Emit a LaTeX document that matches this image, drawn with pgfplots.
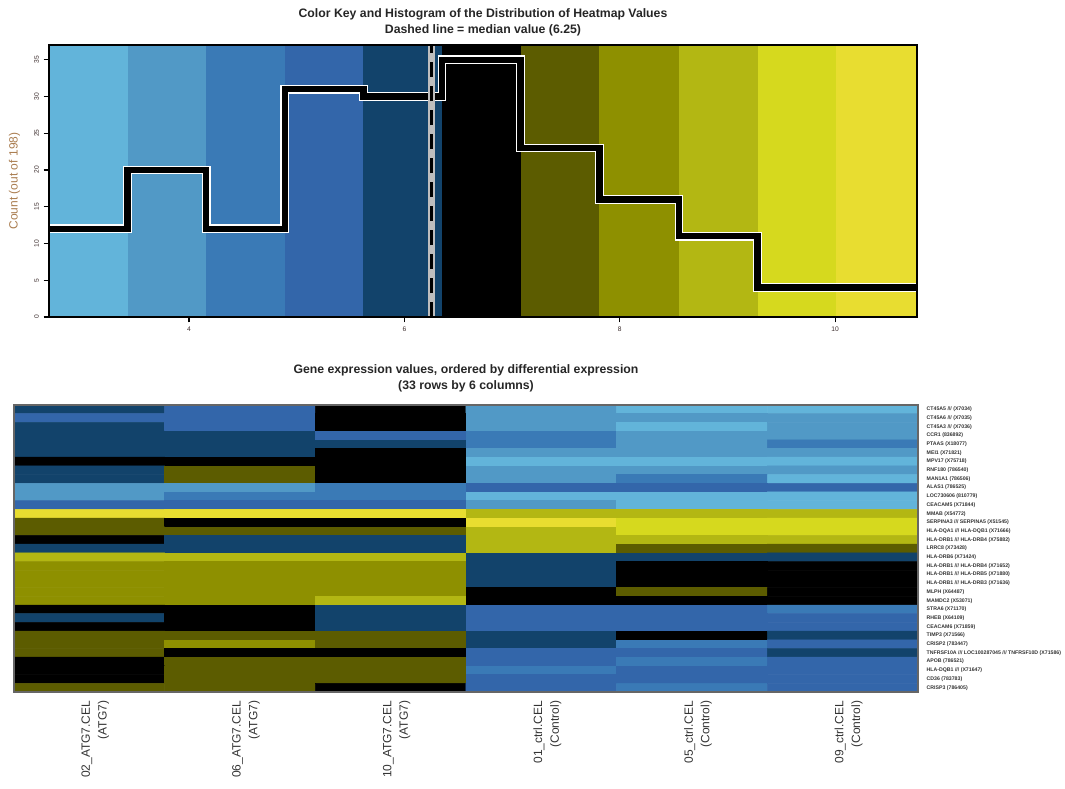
\documentclass[border=0pt]{standalone}
\usepackage{fontspec}
\setmainfont{Liberation Sans}
\usepackage{pgfplots}
\pgfplotsset{compat=1.18}
\definecolor{k0}{RGB}{98,180,218}
\definecolor{k1}{RGB}{81,153,198}
\definecolor{k2}{RGB}{58,122,182}
\definecolor{k3}{RGB}{51,102,170}
\definecolor{k4}{RGB}{18,67,107}
\definecolor{k5}{RGB}{0,0,0}
\definecolor{k6}{RGB}{92,92,0}
\definecolor{k7}{RGB}{142,144,0}
\definecolor{k8}{RGB}{179,183,19}
\definecolor{k9}{RGB}{214,217,30}
\definecolor{k10}{RGB}{232,221,48}
\definecolor{labbrown}{RGB}{170,125,80}
\definecolor{ticktxt}{RGB}{60,45,45}
\definecolor{medgrey}{RGB}{190,190,190}
\begin{document}
\begin{tikzpicture}
\useasboundingbox (0,0) rectangle (798.75pt,-591.75pt);
% ---------------- colour key + histogram ----------------
\begin{axis}[
  at={(36.75pt,-237.75pt)}, anchor=south west, scale only axis,
  width=651pt, height=204pt,
  xmin=2.70, xmax=10.76, ymin=0, ymax=37,
  axis on top,
  xtick={4,6,8,10}, ytick={0,5,...,35},
  tick align=outside, xtick pos=bottom, ytick pos=left,
  major tick length=4pt,
  tick style={black, line width=0.8pt},
  axis line style={line width=1pt},
  /pgf/number format/assume math mode=true,
  ticklabel style={font=\fontsize{5}{6}\selectfont, text=ticktxt},
  yticklabel style={rotate=90, anchor=south},
  ylabel={Count (out of 198)},
  ylabel style={at={(axis description cs:-0.028,0.5)}, anchor=south, font=\fontsize{9}{11}\selectfont, text=labbrown},
  title={Color Key and Histogram of the Distribution of Heatmap Values\\Dashed line = median value (6.25)},
  title style={align=center, font=\bfseries\fontsize{9.2}{12}\selectfont, text=black!85},
  every axis title shift=3.5pt,
]
\addplot[fill=k0, draw=none] coordinates {(2.70,0) (2.70,37) (3.43,37) (3.43,0)} --cycle;
\addplot[fill=k1, draw=none] coordinates {(3.43,0) (3.43,37) (4.16,37) (4.16,0)} --cycle;
\addplot[fill=k2, draw=none] coordinates {(4.16,0) (4.16,37) (4.89,37) (4.89,0)} --cycle;
\addplot[fill=k3, draw=none] coordinates {(4.89,0) (4.89,37) (5.62,37) (5.62,0)} --cycle;
\addplot[fill=k4, draw=none] coordinates {(5.62,0) (5.62,37) (6.35,37) (6.35,0)} --cycle;
\addplot[fill=k5, draw=none] coordinates {(6.35,0) (6.35,37) (7.08,37) (7.08,0)} --cycle;
\addplot[fill=k6, draw=none] coordinates {(7.08,0) (7.08,37) (7.81,37) (7.81,0)} --cycle;
\addplot[fill=k7, draw=none] coordinates {(7.81,0) (7.81,37) (8.55,37) (8.55,0)} --cycle;
\addplot[fill=k8, draw=none] coordinates {(8.55,0) (8.55,37) (9.28,37) (9.28,0)} --cycle;
\addplot[fill=k9, draw=none] coordinates {(9.28,0) (9.28,37) (10.01,37) (10.01,0)} --cycle;
\addplot[fill=k10, draw=none] coordinates {(10.01,0) (10.01,37) (10.76,37) (10.76,0)} --cycle;
% histogram step line
\addplot[const plot, white, line width=6.6pt] coordinates {(2.70,12) (3.43,20) (4.16,12) (4.89,31) (5.62,30) (6.35,35) (7.08,23) (7.81,16) (8.55,11) (9.28,4) (10.01,4) (10.76,4)};
\addplot[const plot, black, line width=4.8pt] coordinates {(2.70,12) (3.43,20) (4.16,12) (4.89,31) (5.62,30) (6.35,35) (7.08,23) (7.81,16) (8.55,11) (9.28,4) (10.01,4) (10.76,4)};
% median line
\addplot[medgrey, line width=5.5pt] coordinates {(6.25,0) (6.25,37)};
\addplot[black, line width=2.2pt, dash pattern=on 11pt off 7pt] coordinates {(6.25,0) (6.25,37)};
\end{axis}
% ---------------- heatmap ----------------
\begin{axis}[
  at={(10.5pt,-519pt)}, anchor=south west, scale only axis,
  width=678pt, height=215.25pt,
  xmin=-0.5, xmax=5.5, ymin=-0.5, ymax=32.5, y dir=reverse,
  enlargelimits=false, axis on top,
  colormap={hm}{rgb255=(98,180,218) rgb255=(81,153,198) rgb255=(58,122,182) rgb255=(51,102,170) rgb255=(18,67,107) rgb255=(0,0,0) rgb255=(92,92,0) rgb255=(142,144,0) rgb255=(179,183,19) rgb255=(214,217,30) rgb255=(232,221,48)},
  colormap access=direct,
  xtick={0,...,5},
  xticklabels={{02\_ATG7.CEL\\(ATG7)},{06\_ATG7.CEL\\(ATG7)},{10\_ATG7.CEL\\(ATG7)},{01\_ctrl.CEL\\(Control)},{05\_ctrl.CEL\\(Control)},{09\_ctrl.CEL\\(Control)}},
  xticklabel style={rotate=90, anchor=east, align=right, font=\fontsize{9}{12.5}\selectfont, text=black!80, xshift=-3pt, yshift=-4.5pt},
  ytick={0,...,32},
  yticklabels={{CT45A5 /// (X7034)},{CT45A6 /// (X7035)},{CT45A3 /// (X7036)},{CCR1 (836892)},{PTAAS (X18077)},{MEI1 (X71821)},{MPV17 (X75718)},{RNF180 (786540)},{MAN1A1 (786506)},{ALAS1 (786525)},{LOC730606 (810779)},{CEACAM5 (X71844)},{MMAB (X54772)},{SERPINA3 /// SERPINA5 (X51545)},{HLA-DQA1 /// HLA-DQB1 (X71666)},{HLA-DRB1 /// HLA-DRB4 (X75882)},{LRRC8 (X73428)},{HLA-DRB6 (X71424)},{HLA-DRB1 /// HLA-DRB4 (X71652)},{HLA-DRB1 /// HLA-DRB5 (X71880)},{HLA-DRB1 /// HLA-DRB3 (X71636)},{MLPH (X64487)},{MAMDC2 (X53071)},{STRA6 (X71170)},{RHEB (X64109)},{CEACAM6 (X71859)},{TIMP3 (X71566)},{CRISP2 (783447)},{TNFRSF10A /// LOC100287045 /// TNFRSF10D (X71586)},{APOB (786521)},{HLA-DQB1 /// (X71647)},{CD36 (783783)},{CRISP3 (786405)}},
  yticklabel pos=right,
  yticklabel style={anchor=west, xshift=3pt, font=\bfseries\fontsize{3.9}{4}\selectfont, text=black!80},
  major tick length=0pt,
  axis line style={draw=black!60, line width=0.8pt},
  title={Gene expression values, ordered by differential expression\\(33 rows by 6 columns)},
  title style={align=center, font=\bfseries\fontsize{9.2}{12}\selectfont, text=black!85},
  every axis title shift=6.5pt,
]
\addplot[matrix plot*, mesh/cols=6, point meta=explicit] coordinates {
(0,0)[4] (1,0)[3] (2,0)[5] (3,0)[1] (4,0)[0] (5,0)[0]
(0,1)[3] (1,1)[3] (2,1)[5] (3,1)[1] (4,1)[1] (5,1)[1]
(0,2)[4] (1,2)[3] (2,2)[5] (3,2)[1] (4,2)[0] (5,2)[1]
(0,3)[4] (1,3)[4] (2,3)[3] (3,3)[2] (4,3)[1] (5,3)[1]
(0,4)[4] (1,4)[4] (2,4)[4] (3,4)[2] (4,4)[1] (5,4)[2]
(0,5)[4] (1,5)[4] (2,5)[5] (3,5)[1] (4,5)[1] (5,5)[1]
(0,6)[5] (1,6)[5] (2,6)[5] (3,6)[0] (4,6)[0] (5,6)[0]
(0,7)[4] (1,7)[6] (2,7)[5] (3,7)[1] (4,7)[1] (5,7)[1]
(0,8)[4] (1,8)[6] (2,8)[5] (3,8)[1] (4,8)[2] (5,8)[0]
(0,9)[1] (1,9)[1] (2,9)[2] (3,9)[3] (4,9)[3] (5,9)[3]
(0,10)[1] (1,10)[2] (2,10)[2] (3,10)[0] (4,10)[0] (5,10)[0]
(0,11)[3] (1,11)[3] (2,11)[3] (3,11)[1] (4,11)[0] (5,11)[0]
(0,12)[10] (1,12)[10] (2,12)[10] (3,12)[8] (4,12)[8] (5,12)[8]
(0,13)[6] (1,13)[5] (2,13)[5] (3,13)[10] (4,13)[9] (5,13)[9]
(0,14)[6] (1,14)[6] (2,14)[6] (3,14)[8] (4,14)[9] (5,14)[9]
(0,15)[5] (1,15)[4] (2,15)[4] (3,15)[8] (4,15)[8] (5,15)[8]
(0,16)[4] (1,16)[4] (2,16)[4] (3,16)[8] (4,16)[6] (5,16)[6]
(0,17)[8] (1,17)[8] (2,17)[8] (3,17)[4] (4,17)[4] (5,17)[4]
(0,18)[7] (1,18)[7] (2,18)[7] (3,18)[4] (4,18)[5] (5,18)[5]
(0,19)[7] (1,19)[7] (2,19)[7] (3,19)[4] (4,19)[5] (5,19)[5]
(0,20)[7] (1,20)[7] (2,20)[7] (3,20)[4] (4,20)[5] (5,20)[5]
(0,21)[7] (1,21)[7] (2,21)[7] (3,21)[5] (4,21)[6] (5,21)[5]
(0,22)[7] (1,22)[7] (2,22)[8] (3,22)[5] (4,22)[5] (5,22)[5]
(0,23)[5] (1,23)[5] (2,23)[4] (3,23)[3] (4,23)[3] (5,23)[2]
(0,24)[4] (1,24)[5] (2,24)[4] (3,24)[3] (4,24)[3] (5,24)[3]
(0,25)[5] (1,25)[5] (2,25)[4] (3,25)[3] (4,25)[3] (5,25)[3]
(0,26)[6] (1,26)[6] (2,26)[6] (3,26)[4] (4,26)[5] (5,26)[4]
(0,27)[6] (1,27)[7] (2,27)[6] (3,27)[4] (4,27)[2] (5,27)[3]
(0,28)[6] (1,28)[5] (2,28)[5] (3,28)[3] (4,28)[3] (5,28)[4]
(0,29)[5] (1,29)[6] (2,29)[6] (3,29)[3] (4,29)[2] (5,29)[3]
(0,30)[5] (1,30)[6] (2,30)[6] (3,30)[2] (4,30)[3] (5,30)[3]
(0,31)[5] (1,31)[6] (2,31)[6] (3,31)[3] (4,31)[3] (5,31)[3]
(0,32)[6] (1,32)[6] (2,32)[5] (3,32)[3] (4,32)[2] (5,32)[3]
};
\end{axis}
\end{tikzpicture}
\end{document}
